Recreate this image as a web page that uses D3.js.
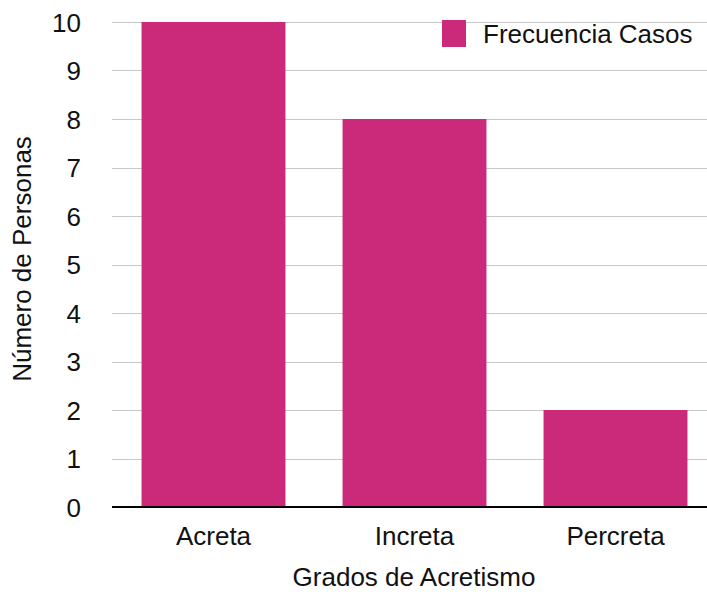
<!DOCTYPE html>
<html>
<head>
<meta charset="utf-8">
<script src="https://cdn.jsdelivr.net/npm/d3@7/dist/d3.min.js"></script>
<style>
  html, body { margin: 0; padding: 0; background: #fff; }
  svg { display: block; font-family: "Liberation Sans", Arial, sans-serif; }
</style>
</head>
<body>
<svg id="chart" width="707" height="592"></svg>
<script>
// Data
const categories = ["Acreta", "Increta", "Percreta"];
const frecuenciaCasos = [10, 8, 2];
const yTicks = [0, 1, 2, 3, 4, 5, 6, 7, 8, 9, 10];
const seriesName = "Frecuencia Casos";
const xTitle = "Grados de Acretismo";
const yTitle = "Número de Personas";

const barColor = "#cb2a7a";
const fontSize = 26;
const svg = d3.select("#chart");

const plot = { left: 113, right: 716, top: 22, bottom: 507 };

const x = d3.scaleBand()
  .domain(categories)
  .range([plot.left, plot.right])
  .paddingInner(0.284)
  .paddingOuter(0.142);

const y = d3.scaleLinear()
  .domain([0, 10])
  .range([plot.bottom, plot.top]);

// Horizontal gridlines
svg.append("g")
  .selectAll("line")
  .data(yTicks.filter(d => d !== 0))
  .join("line")
  .attr("x1", 112)
  .attr("x2", 707)
  .attr("y1", d => Math.round(y(d)) + 0.5)
  .attr("y2", d => Math.round(y(d)) + 0.5)
  .attr("stroke", "#c8c8c8")
  .attr("stroke-width", 1);

// Bars
svg.append("g")
  .selectAll("rect")
  .data(categories.map((c, i) => ({ c, v: frecuenciaCasos[i] })))
  .join("rect")
  .attr("x", d => x(d.c))
  .attr("width", x.bandwidth())
  .attr("y", d => y(d.v))
  .attr("height", d => y(0) - y(d.v))
  .attr("fill", barColor);

// Baseline
svg.append("line")
  .attr("x1", 112)
  .attr("x2", 707)
  .attr("y1", y(0))
  .attr("y2", y(0))
  .attr("stroke", "#000")
  .attr("stroke-width", 2.2);

// Y axis labels
const yAxis = d3.axisLeft(y).tickValues(yTicks).tickSize(0).tickPadding(0).tickFormat(d3.format("d"));
const yg = svg.append("g")
  .attr("transform", `translate(81,0)`)
  .call(yAxis);
yg.select(".domain").remove();
yg.selectAll("text")
  .attr("font-size", fontSize)
  .attr("font-family", "Liberation Sans, Arial, sans-serif")
  .attr("fill", "#111")
  .attr("dy", "0.35em");

// X axis labels
const xAxis = d3.axisBottom(x).tickSize(0).tickPadding(0);
const xg = svg.append("g")
  .attr("transform", `translate(0,${y(0)})`)
  .call(xAxis);
xg.select(".domain").remove();
xg.selectAll("text")
  .attr("font-size", fontSize)
  .attr("font-family", "Liberation Sans, Arial, sans-serif")
  .attr("fill", "#111")
  .attr("y", 38)
  .attr("dy", null);

// Axis titles
svg.append("text")
  .attr("x", 414)
  .attr("y", 586)
  .attr("text-anchor", "middle")
  .attr("font-size", fontSize)
  .attr("fill", "#111")
  .text(xTitle);

svg.append("text")
  .attr("transform", "translate(31,259) rotate(-90)")
  .attr("text-anchor", "middle")
  .attr("font-size", fontSize)
  .attr("fill", "#111")
  .text(yTitle);

// Legend
const legend = svg.append("g").attr("transform", "translate(442,20)");
legend.append("rect")
  .attr("width", 24)
  .attr("height", 27)
  .attr("fill", barColor);
legend.append("text")
  .attr("x", 41)
  .attr("y", 23)
  .attr("font-size", fontSize)
  .attr("fill", "#111")
  .text(seriesName);
</script>
</body>
</html>
